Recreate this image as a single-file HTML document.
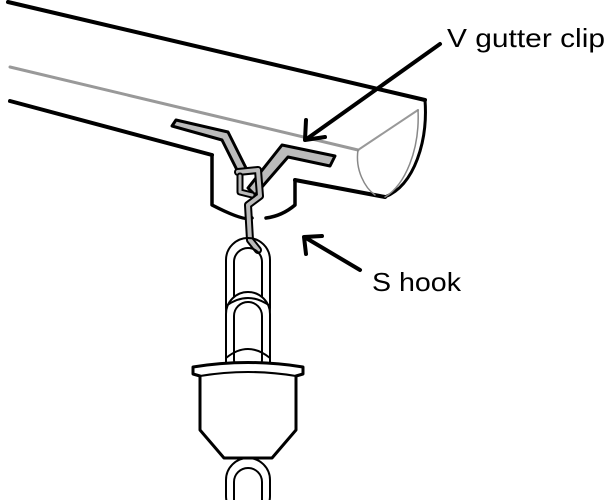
<!DOCTYPE html>
<html><head><style>
html,body{margin:0;padding:0;background:#fff;width:608px;height:500px;overflow:hidden}
svg{display:block}
text{font-family:"Liberation Sans",sans-serif;font-size:26px;fill:#000}
</style></head><body>
<svg width="608" height="500" viewBox="0 0 608 500" xmlns="http://www.w3.org/2000/svg">
<g fill="none" stroke="#000" stroke-linecap="round" stroke-linejoin="round">
<line x1="8" y1="2" x2="425" y2="100" stroke-width="4"/>
<line x1="10" y1="67" x2="358" y2="150" stroke="#999" stroke-width="3"/>
<path d="M358 150 L418 110" stroke="#999" stroke-width="2"/>
<path d="M10 101 L212 155" stroke-width="4"/>
<path d="M295 180 L385 197" stroke-width="4"/>
<path d="M425 100 C428 140 415 185 385 197" stroke-width="3"/>
<path d="M418 110 C420 150 405 185 385 197" stroke="#888" stroke-width="1.5"/>
<path d="M358 150 C355 170 365 188 375 195" stroke="#888" stroke-width="1.5"/>
<path d="M212 155 L212 205 Q245 222 252 218" stroke-width="3.5"/>
<path d="M295 180 L295 205 Q282 216 266 218" stroke-width="3.5"/>
<path d="M172 126 L176 120 L228 132 L246 168 L238 172 L222 140 Z" fill="#bbb" stroke-width="3"/>
<path d="M248 188 L282 145 L335 156 L330 166 L288 157 L255 195 Z" fill="#bbb" stroke-width="3"/>
<path d="M238 172 L258 170 L260 196 L248 205 L250 240 L258 250" stroke="#000" stroke-width="8"/>
<path d="M238 172 L258 170 L260 196 L248 205 L250 240 L258 250" stroke="#bbb" stroke-width="4"/>
<path d="M240 176 L240 192 L252 195" stroke="#000" stroke-width="7"/>
<path d="M240 176 L240 192 L252 195" stroke="#bbb" stroke-width="3"/>
<g stroke-width="2">
<rect x="226" y="238" width="44" height="92" rx="22"/>
<rect x="234" y="248" width="28" height="72" rx="14"/>
<rect x="226" y="292" width="44" height="92" rx="22" fill="#fff"/>
<rect x="234" y="302" width="28" height="72" rx="14"/>
<path d="M226 306 Q248 290 270 306"/>
<path d="M226 358 Q248 340 270 358"/>
<rect x="226" y="458" width="44" height="60" rx="22"/>
<rect x="234" y="468" width="28" height="50" rx="14"/>
</g>
<path d="M193 367 Q248 358 303 367 L303 374 L296 376 L296 430 L272 458 L224 458 L200 430 L200 376 L193 374 Z" fill="#fff" stroke-width="3"/>
<path d="M200 376 Q248 368 296 376" stroke-width="2"/>
<line x1="440" y1="44" x2="308" y2="138" stroke-width="4"/>
<path d="M306 120 L305 140 L325 137" stroke-width="4"/>
<line x1="360" y1="270" x2="306" y2="238" stroke-width="4"/>
<path d="M306 254 L304 237 L322 236" stroke-width="4"/>
</g>
<text x="447" y="47" textLength="158" lengthAdjust="spacingAndGlyphs">V gutter clip</text>
<text x="372" y="291" textLength="89" lengthAdjust="spacingAndGlyphs">S hook</text>
</svg>
</body></html>
